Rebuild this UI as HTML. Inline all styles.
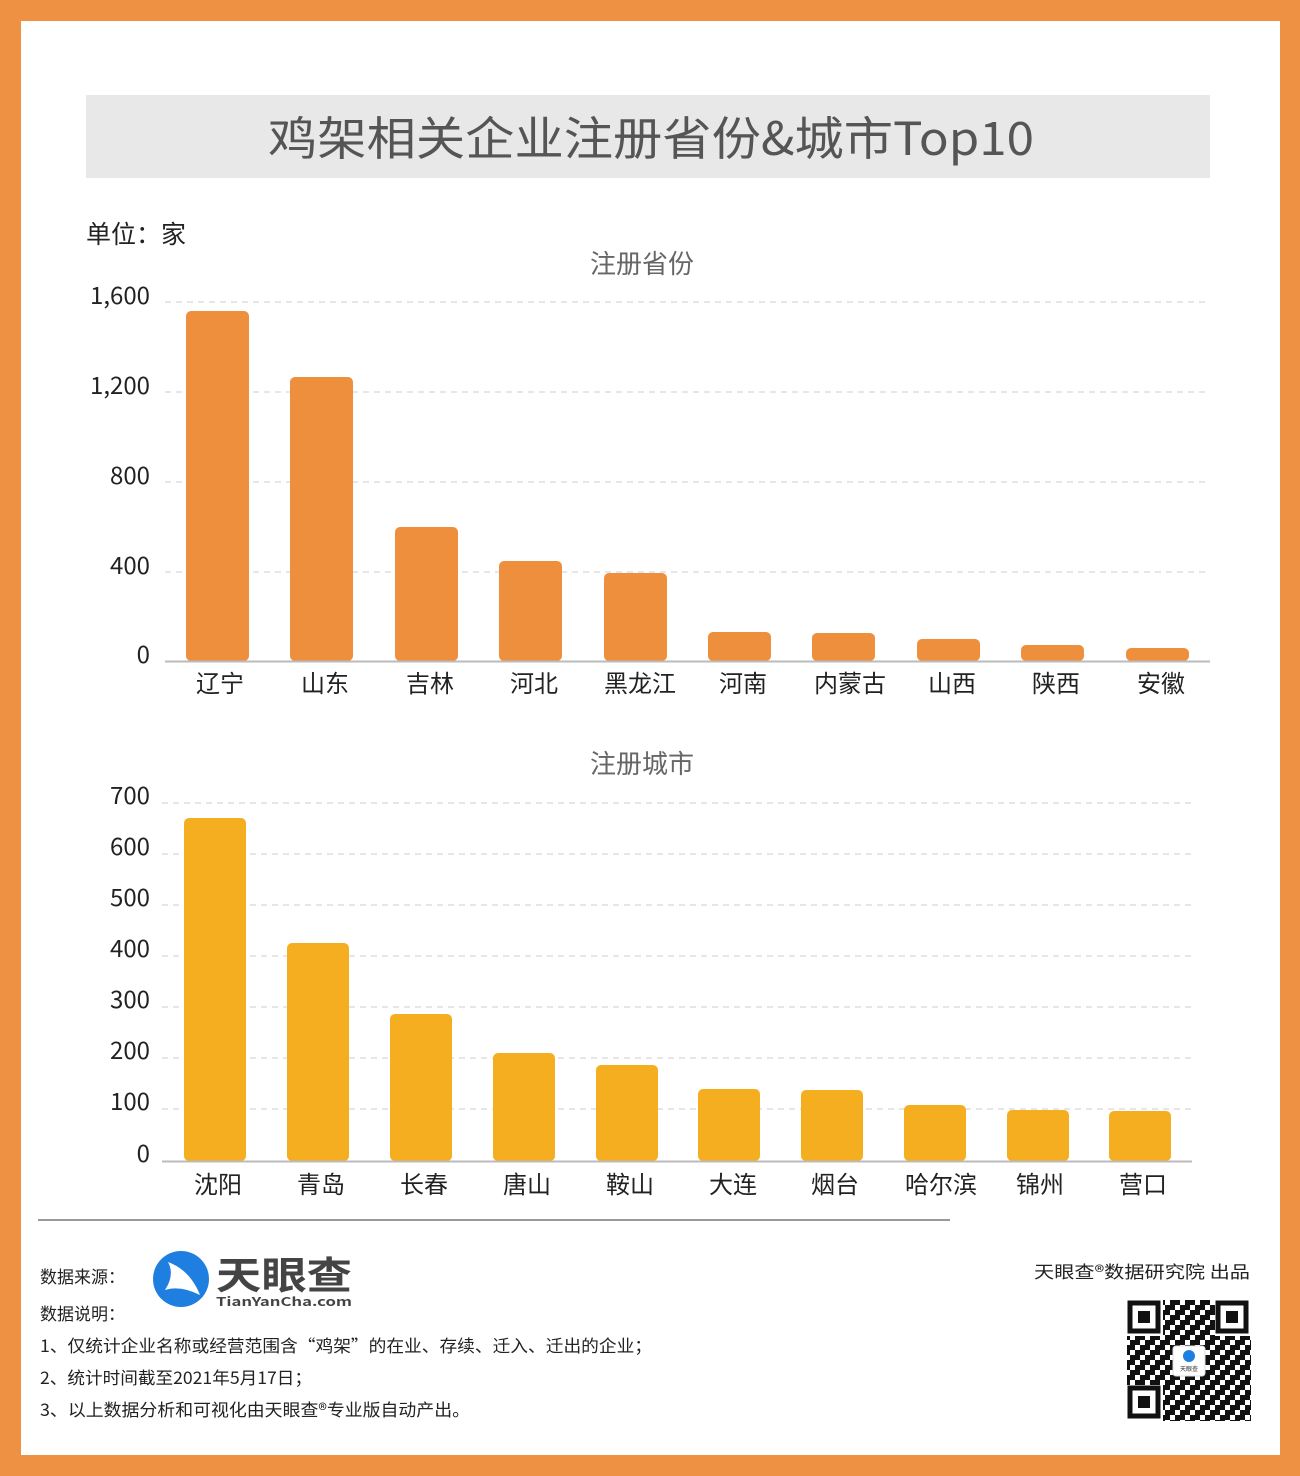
<!DOCTYPE html>
<html><head><meta charset="utf-8"><style>
body{margin:0;width:1300px;height:1476px;background:#EE9142;font-family:"Noto Sans CJK SC",sans-serif;}
svg{display:block}
</style></head><body>
<svg width="1300" height="1476" xmlns="http://www.w3.org/2000/svg" font-family="Noto Sans CJK SC, sans-serif">
<rect x="0" y="0" width="1300" height="1476" fill="#EE9142"/>
<rect x="21" y="21" width="1259" height="1434" fill="#fff"/>
<rect x="86" y="95" width="1124" height="83" fill="#E8E8E8"/>
<text x="268" y="155" textLength="766" lengthAdjust="spacingAndGlyphs" font-size="46" fill="#555">鸡架相关企业注册省份&amp;城市Top10</text>
<text x="86" y="243" font-size="25" fill="#222">单位：家</text>
<text x="642" y="273" text-anchor="middle" font-size="26" fill="#666">注册省份</text>
<g stroke="#ccc" stroke-dasharray="6,5" stroke-width="1">
<line x1="165" y1="302" x2="1210" y2="302"/><line x1="165" y1="392" x2="1210" y2="392"/><line x1="165" y1="482" x2="1210" y2="482"/><line x1="165" y1="572" x2="1210" y2="572"/>
</g>
<g font-size="24" fill="#222" text-anchor="end">
<text x="150" y="304">1,600</text><text x="150" y="394">1,200</text><text x="150" y="484">800</text><text x="150" y="574">400</text><text x="150" y="663">0</text>
</g>
<g fill="#EE8F3E">
<rect x="186" y="311" width="63" height="350" rx="5"/>
<rect x="290" y="377" width="63" height="284" rx="5"/>
<rect x="395" y="527" width="63" height="134" rx="5"/>
<rect x="499" y="561" width="63" height="100" rx="5"/>
<rect x="604" y="573" width="63" height="88" rx="5"/>
<rect x="708" y="632" width="63" height="29" rx="5"/>
<rect x="812" y="633" width="63" height="28" rx="5"/>
<rect x="917" y="639" width="63" height="22" rx="5"/>
<rect x="1021" y="645" width="63" height="16" rx="5"/>
<rect x="1126" y="648" width="63" height="13" rx="5"/>
</g>
<line x1="165" y1="661.5" x2="1210" y2="661.5" stroke="#bbb" stroke-width="2"/>
<g font-size="24" fill="#222" text-anchor="middle">
<text x="220" y="692">辽宁</text><text x="325" y="692">山东</text><text x="430" y="692">吉林</text><text x="534" y="692">河北</text><text x="640" y="692">黑龙江</text><text x="743" y="692">河南</text><text x="850" y="692">内蒙古</text><text x="952" y="692">山西</text><text x="1056" y="692">陕西</text><text x="1161" y="692">安徽</text>
</g>
<text x="642" y="773" text-anchor="middle" font-size="26" fill="#666">注册城市</text>
<g stroke="#ccc" stroke-dasharray="6,5" stroke-width="1">
<line x1="162" y1="803" x2="1192" y2="803"/><line x1="162" y1="854" x2="1192" y2="854"/><line x1="162" y1="905" x2="1192" y2="905"/><line x1="162" y1="956" x2="1192" y2="956"/><line x1="162" y1="1007" x2="1192" y2="1007"/><line x1="162" y1="1058" x2="1192" y2="1058"/><line x1="162" y1="1109" x2="1192" y2="1109"/>
</g>
<g font-size="24" fill="#222" text-anchor="end">
<text x="150" y="804">700</text><text x="150" y="855">600</text><text x="150" y="906">500</text><text x="150" y="957">400</text><text x="150" y="1008">300</text><text x="150" y="1059">200</text><text x="150" y="1110">100</text><text x="150" y="1162">0</text>
</g>
<g fill="#F5AE20">
<rect x="184" y="818" width="62" height="343" rx="5"/>
<rect x="287" y="943" width="62" height="218" rx="5"/>
<rect x="390" y="1014" width="62" height="147" rx="5"/>
<rect x="493" y="1053" width="62" height="108" rx="5"/>
<rect x="596" y="1065" width="62" height="96" rx="5"/>
<rect x="698" y="1089" width="62" height="72" rx="5"/>
<rect x="801" y="1090" width="62" height="71" rx="5"/>
<rect x="904" y="1105" width="62" height="56" rx="5"/>
<rect x="1007" y="1110" width="62" height="51" rx="5"/>
<rect x="1109" y="1111" width="62" height="50" rx="5"/>
</g>
<line x1="162" y1="1161.5" x2="1192" y2="1161.5" stroke="#bbb" stroke-width="2"/>
<g font-size="24" fill="#222" text-anchor="middle">
<text x="218" y="1193">沈阳</text><text x="321" y="1193">青岛</text><text x="424" y="1193">长春</text><text x="527" y="1193">唐山</text><text x="630" y="1193">鞍山</text><text x="733" y="1193">大连</text><text x="835" y="1193">烟台</text><text x="941" y="1193">哈尔滨</text><text x="1040" y="1193">锦州</text><text x="1143" y="1193">营口</text>
</g>
<line x1="38" y1="1220" x2="950" y2="1220" stroke="#999" stroke-width="2"/>
<g font-size="17" fill="#222">
<text x="40" y="1283">数据来源：</text>
<text x="40" y="1320">数据说明：</text>
<text x="40" y="1352" textLength="612" lengthAdjust="spacingAndGlyphs">1、仅统计企业名称或经营范围含“鸡架”的在业、存续、迁入、迁出的企业；</text>
<text x="40" y="1384" textLength="272" lengthAdjust="spacingAndGlyphs">2、统计时间截至2021年5月17日；</text>
<text x="40" y="1416" textLength="430" lengthAdjust="spacingAndGlyphs">3、以上数据分析和可视化由天眼查®专业版自动产出。</text>
<text x="1034" y="1278" textLength="216" lengthAdjust="spacingAndGlyphs">天眼查®数据研究院 出品</text>
</g>
<circle cx="181" cy="1279" r="28" fill="#1E7FE0"/>
<path d="M168 1262 Q190 1270 200 1295 Q180 1285 165 1290 Q175 1275 168 1262Z" fill="#fff"/>
<text x="216" y="1289" font-size="38" font-weight="bold" fill="#444" textLength="136" lengthAdjust="spacingAndGlyphs">天眼查</text>
<text x="216" y="1306" font-size="12" font-weight="bold" fill="#444" textLength="136" lengthAdjust="spacingAndGlyphs">TianYanCha.com</text>
<g>
<rect x="1127" y="1300" width="124" height="121" fill="#fff"/>
<defs><pattern id="q" width="15" height="15" patternUnits="userSpaceOnUse"><rect x="0" y="0" width="5" height="5" fill="#111"/><rect x="10" y="0" width="5" height="10" fill="#111"/><rect x="5" y="5" width="5" height="5" fill="#111"/><rect x="0" y="10" width="10" height="5" fill="#111"/></pattern></defs>
<rect x="1127" y="1300" width="124" height="121" fill="url(#q)"/>
<g fill="#fff"><rect x="1127" y="1300" width="36" height="36"/><rect x="1215" y="1300" width="36" height="36"/><rect x="1127" y="1385" width="36" height="36"/></g>
<g fill="none" stroke="#111" stroke-width="5"><rect x="1130" y="1303" width="28" height="28"/><rect x="1218" y="1303" width="28" height="28"/><rect x="1130" y="1388" width="28" height="28"/></g>
<g fill="#111"><rect x="1138" y="1311" width="12" height="12"/><rect x="1226" y="1311" width="12" height="12"/><rect x="1138" y="1396" width="12" height="12"/></g>
<rect x="1173" y="1346" width="32" height="30" rx="3" fill="#fff" stroke="#ddd"/>
<circle cx="1189" cy="1356" r="6" fill="#1E7FE0"/>
<text x="1189" y="1371" font-size="6" text-anchor="middle" fill="#333">天眼查</text>
</g>
</svg>
</body></html>
